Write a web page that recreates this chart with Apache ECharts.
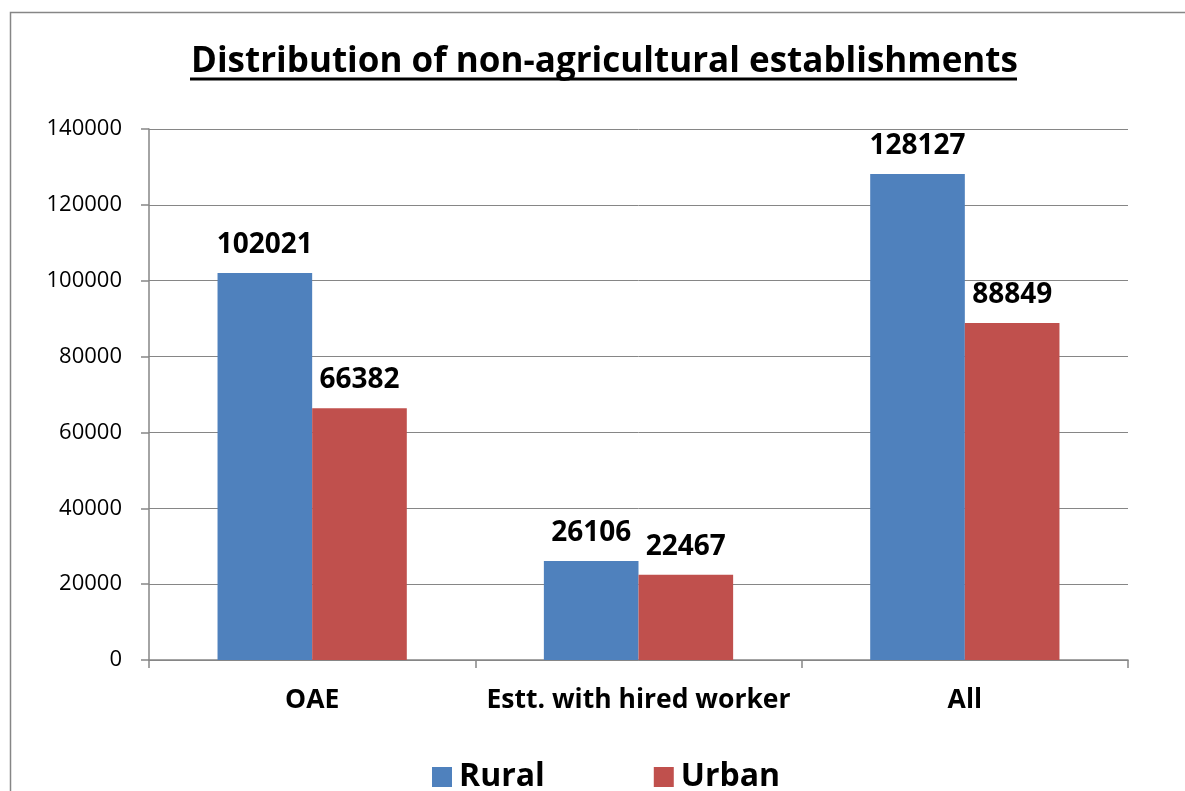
<!DOCTYPE html>
<html>
<head>
<meta charset="utf-8">
<script src="https://cdn.jsdelivr.net/npm/echarts@6/dist/echarts.min.js"></script>
<style>
  html, body { margin: 0; padding: 0; background: #fff; }
  #chart { width: 1185px; height: 791px; }
</style>
</head>
<body>
<div id="chart"></div>
<script>
// data
const categories = ['OAE', 'Estt. with hired worker', 'All']
const rural = [102021, 26106, 128127]
const urban = [66382, 22467, 88849]
const yTicks = [0, 20000, 40000, 60000, 80000, 100000, 120000, 140000]

const font = '"Open Sans", "Noto Sans", sans-serif'
const gray = '#868686'

const myChart = echarts.init(document.getElementById('chart'))

const labelStyle = {
    show: true,
    position: 'top',
    distance: 14,
    color: '#000',
    fontFamily: font,
    fontWeight: 'bold',
    fontSize: 28
}

myChart.setOption({
    animation: false,
    backgroundColor: '#fff',
    title: {
        text: 'Distribution of non-agricultural establishments',
        left: 186,
        top: 40,
        textStyle: {fontFamily: font, fontWeight: 'bold', fontSize: 35, color: '#000'}
    },
    graphic: [
        // outer frame
        {type: 'rect', shape: {x: 10.5, y: 12.5, width: 1300, height: 900},
         style: {fill: 'none', stroke: gray, lineWidth: 1.5}, silent: true},
        // title underline
        {type: 'line', shape: {x1: 190, y1: 79, x2: 1017, y2: 79},
         style: {stroke: '#000', lineWidth: 3}, silent: true}
    ],
    legend: {
        data: ['Rural', 'Urban'],
        left: 427,
        top: 756,
        itemWidth: 20,
        itemHeight: 20,
        itemGap: 109,
        icon: 'rect',
        textStyle: {fontFamily: font, fontWeight: 'bold', fontSize: 32, color: '#000', padding: [0, 0, 0, 2]}
    },
    grid: {left: 149, right: 57, top: 129, bottom: 131, containLabel: false},
    xAxis: {
        type: 'category',
        data: categories,
        axisLine: {lineStyle: {color: gray, width: 1.5}},
        axisTick: {show: true, length: 8, lineStyle: {color: gray, width: 1.5}},
        axisLabel: {interval: 0, margin: 27, color: '#000', fontFamily: font, fontWeight: 'bold', fontSize: 26.5}
    },
    yAxis: {
        type: 'value',
        min: yTicks[0],
        max: yTicks[yTicks.length - 1],
        interval: 20000,
        axisLine: {show: true, lineStyle: {color: gray, width: 1.5}},
        axisTick: {show: true, length: 8, lineStyle: {color: gray, width: 1.5}},
        axisLabel: {margin: 27, color: '#000', fontFamily: font, fontSize: 22,
                    formatter: v => String(v)},
        splitLine: {lineStyle: {color: gray, width: 1}}
    },
    series: [
        {name: 'Rural', type: 'bar', data: rural, barGap: '0%', barCategoryGap: '42%',
         itemStyle: {color: '#4F81BD'}, label: labelStyle},
        {name: 'Urban', type: 'bar', data: urban,
         itemStyle: {color: '#C0504D'}, label: labelStyle}
    ]
})

window.addEventListener('resize', () => {
    myChart.resize()
})
</script>
</body>
</html>
